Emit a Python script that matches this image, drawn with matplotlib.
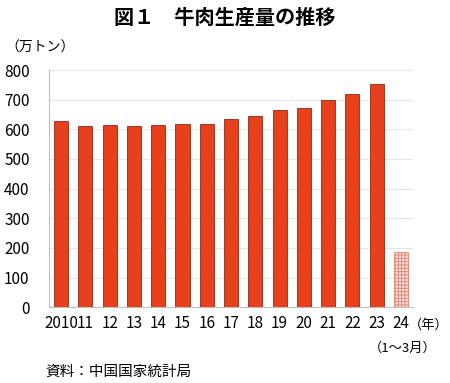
import matplotlib.pyplot as plt

plt.rcParams['font.family'] = ['Noto Sans CJK JP', 'DejaVu Sans']
plt.rcParams['hatch.color'] = '#e8685a'
plt.rcParams['hatch.linewidth'] = 0.6

years = ['2010', '11', '12', '13', '14', '15', '16', '17', '18', '19', '20', '21', '22', '23', '24']
production = [629, 610, 615, 613, 615, 617, 617, 635, 644, 667, 672, 698, 718, 753, 185]

fig = plt.figure(figsize=(4.5, 3.83), dpi=100)
ax = fig.add_axes([0.109, 0.198, 0.809, 0.619])

x = list(range(len(years)))
ax.bar(x[:-1], production[:-1], width=0.58, color='#E8401C',
       edgecolor='#8a2a18', linewidth=0.6, zorder=3)
ax.bar(x[-1], production[-1], width=0.58, color='#fbd9d2',
       edgecolor='#d98a7c', hatch='+++++', linewidth=0.6, zorder=3)

ax.set_xlim(-0.5, 14.5)
ax.set_ylim(0, 800)
ax.set_yticks(range(0, 801, 100))
ax.yaxis.grid(True, color='#e6e6e6', linewidth=0.8, zorder=0)
ax.set_xticks(x)
ax.set_xticklabels(years)
ax.tick_params(axis='both', length=0, labelsize=11, colors='black')
ax.tick_params(axis='x', pad=6)
ax.tick_params(axis='y', pad=14)
for s in ['top', 'right']:
    ax.spines[s].set_visible(False)
for s in ['left', 'bottom']:
    ax.spines[s].set_color('#bfbfbf')

fig.text(0.5, 0.955, '図１　牛肉生産量の推移', ha='center', va='center',
         fontsize=14.5, fontweight='bold')
fig.text(0.012, 0.875, '（万トン）', ha='left', va='center', fontsize=10)
fig.text(0.908, 0.152, '（年）', ha='left', va='center', fontsize=9.5)
fig.text(0.97, 0.09, '（1〜3月）', ha='right', va='center', fontsize=9.5)
fig.text(0.1, 0.03, '資料：中国国家統計局', ha='left', va='center', fontsize=10.5)

fig.savefig('out.png', dpi=100)
